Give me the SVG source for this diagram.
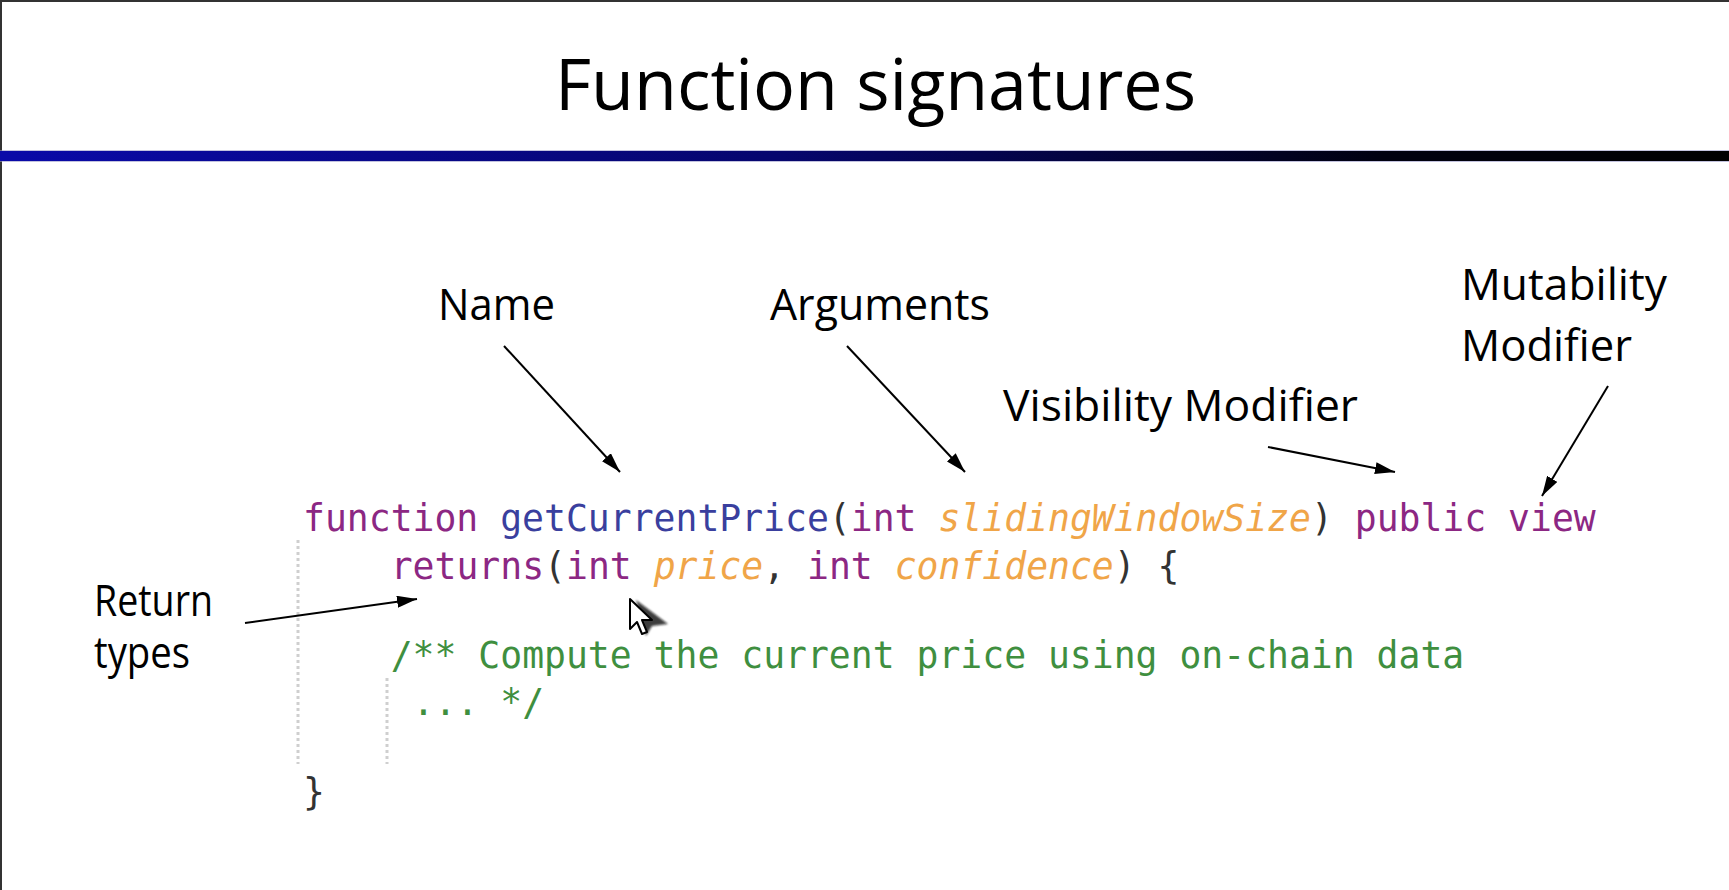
<svg xmlns="http://www.w3.org/2000/svg" width="1729" height="890" viewBox="0 0 1729 890">
  <style>
    .label { font-family: "Open Sans", "Liberation Sans", sans-serif; font-size: 43px; fill: #000; }
    .title { font-family: "Open Sans", "Liberation Sans", sans-serif; font-size: 72px; fill: #000; }
    .code { font-family: "DejaVu Sans Mono", "Liberation Mono", monospace; font-size: 36.4px; }
    .kw { fill: #8c2783; }
    .fn { fill: #3a3f9e; }
    .arg { fill: #f0a548; font-style: italic; }
    .pn { fill: #333333; }
    .cm { fill: #3f8f3f; }
    .guide { stroke: #cfcfcf; stroke-width: 3; stroke-dasharray: 3 3; fill: none; }
    .conn { stroke: #000; stroke-width: 2; fill: none; marker-end: url(#head); }
  </style>
  <defs>
    <linearGradient id="bar" x1="0" y1="0" x2="1" y2="0">
      <stop offset="0" stop-color="#0a0aa8"/>
      <stop offset="0.45" stop-color="#06066e"/>
      <stop offset="0.8" stop-color="#000010"/>
      <stop offset="1" stop-color="#000000"/>
    </linearGradient>
    <marker id="head" viewBox="0 0 20 12" refX="20" refY="6" markerWidth="20" markerHeight="12" markerUnits="userSpaceOnUse" orient="auto">
      <path d="M0,0 L20,6 L0,12 z" fill="#000"/>
    </marker>
    <filter id="smear" x="-30%" y="-30%" width="160%" height="160%">
      <feGaussianBlur stdDeviation="1.2"/>
    </filter>
  </defs>

  <!-- page background and frame -->
  <rect x="0" y="0" width="1729" height="890" fill="#ffffff"/>
  <rect x="0" y="0" width="1729" height="2" fill="#333333"/>
  <rect x="0" y="0" width="2" height="890" fill="#333333"/>

  <!-- heading -->
  <g id="heading">
    <text class="title" x="875.5" y="110" text-anchor="middle" textLength="641" lengthAdjust="spacingAndGlyphs">Function signatures</text>
    <rect x="0" y="151" width="1729" height="10" fill="url(#bar)"/>
    <rect x="0" y="150" width="1729" height="1" fill="#9a9ac8" opacity="0.6"/>
    <rect x="0" y="161" width="1729" height="1" fill="#9a9ac8" opacity="0.6"/>
  </g>

  <!-- annotation labels -->
  <g id="label-name"><text class="label" x="438" y="320" textLength="117" lengthAdjust="spacingAndGlyphs">Name</text></g>
  <g id="label-arguments"><text class="label" x="770" y="320" textLength="220" lengthAdjust="spacingAndGlyphs">Arguments</text></g>
  <g id="label-mutability">
    <text class="label" x="1461" y="300" textLength="206" lengthAdjust="spacingAndGlyphs">Mutability</text>
    <text class="label" x="1461" y="361" textLength="171" lengthAdjust="spacingAndGlyphs">Modifier</text>
  </g>
  <g id="label-visibility"><text class="label" x="1003" y="421" textLength="355" lengthAdjust="spacingAndGlyphs">Visibility Modifier</text></g>
  <g id="label-return">
    <text class="label" x="94" y="616" textLength="119" lengthAdjust="spacingAndGlyphs">Return</text>
    <text class="label" x="94" y="668" textLength="96" lengthAdjust="spacingAndGlyphs">types</text>
  </g>

  <!-- code listing -->
  <g id="code">
    <line class="guide" x1="298" y1="540" x2="298" y2="764"/>
    <line class="guide" x1="387" y1="678" x2="387" y2="764"/>
    <text class="code" x="303" y="531" xml:space="preserve"><tspan class="kw">function</tspan> <tspan class="fn">getCurrentPrice</tspan><tspan class="pn">(</tspan><tspan class="kw">int</tspan> <tspan class="arg">slidingWindowSize</tspan><tspan class="pn">)</tspan> <tspan class="kw">public view</tspan></text>
    <text class="code" x="390.7" y="579" xml:space="preserve"><tspan class="kw">returns</tspan><tspan class="pn">(</tspan><tspan class="kw">int</tspan> <tspan class="arg">price</tspan><tspan class="pn">,</tspan> <tspan class="kw">int</tspan> <tspan class="arg">confidence</tspan><tspan class="pn">) {</tspan></text>
    <text class="code cm" x="390.7" y="668">/** Compute the current price using on-chain data</text>
    <text class="code cm" x="412.6" y="715">... */</text>
    <text class="code pn" x="303" y="805">}</text>
  </g>

  <!-- mouse pointer -->
  <g id="pointer">
    <path d="M636,600 L668,624 L652,626 L646,636 Z" fill="#111" filter="url(#smear)" opacity="0.8"/>
    <path d="M630,599 L630,629 L637,622 L642,634 L647,632 L642,620 L652,620 Z" fill="#fff" stroke="#000" stroke-width="2" stroke-linejoin="round"/>
  </g>

  <!-- connectors -->
  <g id="connectors">
    <line class="conn" x1="504" y1="346" x2="620" y2="472"/>
    <line class="conn" x1="847" y1="346" x2="965" y2="472"/>
    <line class="conn" x1="1268" y1="447" x2="1395" y2="472"/>
    <line class="conn" x1="1608" y1="386" x2="1542" y2="496"/>
    <line class="conn" x1="245" y1="623" x2="417" y2="599"/>
  </g>
</svg>
